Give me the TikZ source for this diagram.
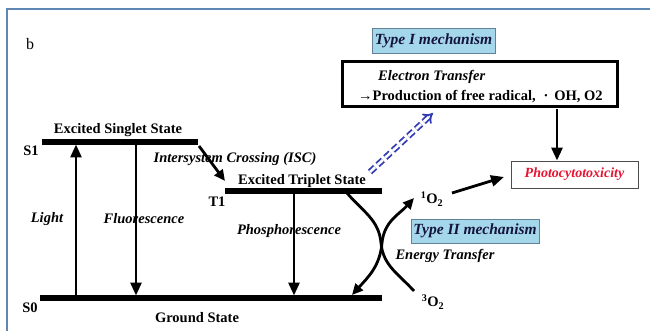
\documentclass[tikz,border=0pt]{standalone}
\usepackage{fontspec}
\setmainfont{Liberation Serif}
\usetikzlibrary{arrows.meta}
\definecolor{frameblue}{RGB}{95,135,180}
\definecolor{typefill}{RGB}{165,215,235}
\definecolor{typeedge}{RGB}{100,130,150}
\definecolor{typetext}{RGB}{20,20,60}
\definecolor{isblue}{RGB}{50,60,180}
\definecolor{photored}{RGB}{230,20,50}
\begin{document}
\begin{tikzpicture}[x=1pt,y=-1pt,
  lbl/.style={font=\fontsize{14.5}{16}\selectfont\bfseries, inner sep=0pt},
  ilbl/.style={font=\fontsize{14.5}{16}\selectfont\bfseries\itshape, inner sep=0pt},
  level/.style={line width=5.5pt},
  trans/.style={line width=2.8pt, -{Triangle[length=13pt,width=11pt]}},
  curv/.style={line width=2.8pt},
  typebox/.style={draw=typeedge, line width=0.8pt, fill=typefill, text=typetext,
    font=\fontsize{15.5}{17}\selectfont\bfseries\itshape, inner sep=0pt},
]
\useasboundingbox (0,0) rectangle (650,331);
% frame
\draw[frameblue, line width=1.6pt] (7,331) -- (7,9) -- (650,9);
\node[font=\fontsize{16}{18}\selectfont] (b) at (30,44) {b};

% energy levels
\coordinate (s1l) at (42,142); \coordinate (s1r) at (198,142);
\coordinate (t1l) at (225,191); \coordinate (t1r) at (382,191);
\coordinate (s0l) at (40,298);  \coordinate (s0r) at (382,298);
\draw[level] (s1l) -- (s1r);
\draw[level] (t1l) -- (t1r);
\draw[level] (s0l) -- (s0r);

% labels
\node[lbl] (S1) at (31,151) {S1};
\node[lbl] (S0) at (30,308) {S0};
\node[lbl] (T1) at (217,202) {T1};
\node[lbl] (ess) at (118,130) {Excited Singlet State};
\node[lbl] (ets) at (302,181) {Excited Triplet State};
\node[lbl] (gs) at (197,318) {Ground State};
\node[ilbl] (isc) at (235,159) {Intersystem Crossing (ISC)};
\node[ilbl] (light) at (47,219) {Light};
\node[ilbl] (fluo) at (144,219) {Fluorescence};
\node[ilbl] (phos) at (289,231) {Phosphorescence};
\node[ilbl] (et) at (445,256) {Energy Transfer};
\node[lbl] (o1) at (432,199) {\textsuperscript{1}O\textsubscript{2}};
\node[lbl] (o3) at (433,302) {\textsuperscript{3}O\textsubscript{2}};

% transition arrows
\coordinate (la) at (76,296); \coordinate (lb) at (76,144.5);
\coordinate (fa) at (136,144); \coordinate (fb) at (136,295.5);
\coordinate (pa) at (294,193); \coordinate (pb) at (294,295.5);
\coordinate (ia) at (199,146); \coordinate (ib) at (225,181);
\draw[trans] (la) -- (lb);
\draw[trans] (fa) -- (fb);
\draw[trans] (pa) -- (pb);
\draw[line width=2.8pt, -{Triangle[length=11pt,width=10pt]}] (ia) -- (ib);

% energy transfer curves
\coordinate (c1a) at (347,193); \coordinate (cm1) at (381,243); \coordinate (c1b) at (414,291);
\coordinate (c2a) at (352,295); \coordinate (cm2) at (382,243); \coordinate (c2b) at (414,198);
\draw[curv] (c1a) to[out=-50,in=95] (cm1) to[out=-85,in=132] (c1b);
\draw[curv, {Triangle[length=11pt,width=10pt]}-{Triangle[length=11pt,width=10pt]}]
  (c2a) to[out=48,in=-95] (cm2) to[out=85,in=-132] (c2b);

% type boxes
\node[typebox, minimum width=123pt, minimum height=25pt] (t1box) at (433.5,40.5) {Type I mechanism};
\node[typebox, minimum width=128pt, minimum height=24pt] (t2box) at (475,231) {Type II mechanism};

% electron transfer box
\node[draw, line width=3pt, minimum width=275pt, minimum height=45pt, inner sep=0pt] (etbox) at (479.5,84.5) {};
\node[ilbl, anchor=west] (etr) at (378,77) {Electron Transfer};
\node[lbl, anchor=west] (prod) at (358,97) {→Production of free radical, \hspace{0.3em}·\hspace{0.4em}OH, O2};

% photocytotoxicity
\node[draw=black!70, line width=0.9pt, minimum width=127pt, minimum height=27pt, inner sep=0pt,
  text=photored, font=\fontsize{14}{16}\selectfont\bfseries\itshape] (photo) at (574.5,174.5) {Photocytotoxicity};

% arrows to photocytotoxicity
\coordinate (pa1) at (557,109);
\draw[line width=2.8pt, -{Triangle[length=13pt,width=11pt]}] (pa1) -- (photo.north -| pa1);
\coordinate (oa) at (452,193);
\draw[line width=2.8pt, -{Triangle[length=13pt,width=11pt]}] (oa) -- (504,177);

% blue dashed double arrow
\coordinate (da) at (370,172); \coordinate (db) at (433,113);
\draw[isblue, line width=1.8pt, double=white, double distance=2.6pt, dash pattern=on 7pt off 3.5pt,
  -{Implies[]}] (da) -- (db);
\end{tikzpicture}
\end{document}
